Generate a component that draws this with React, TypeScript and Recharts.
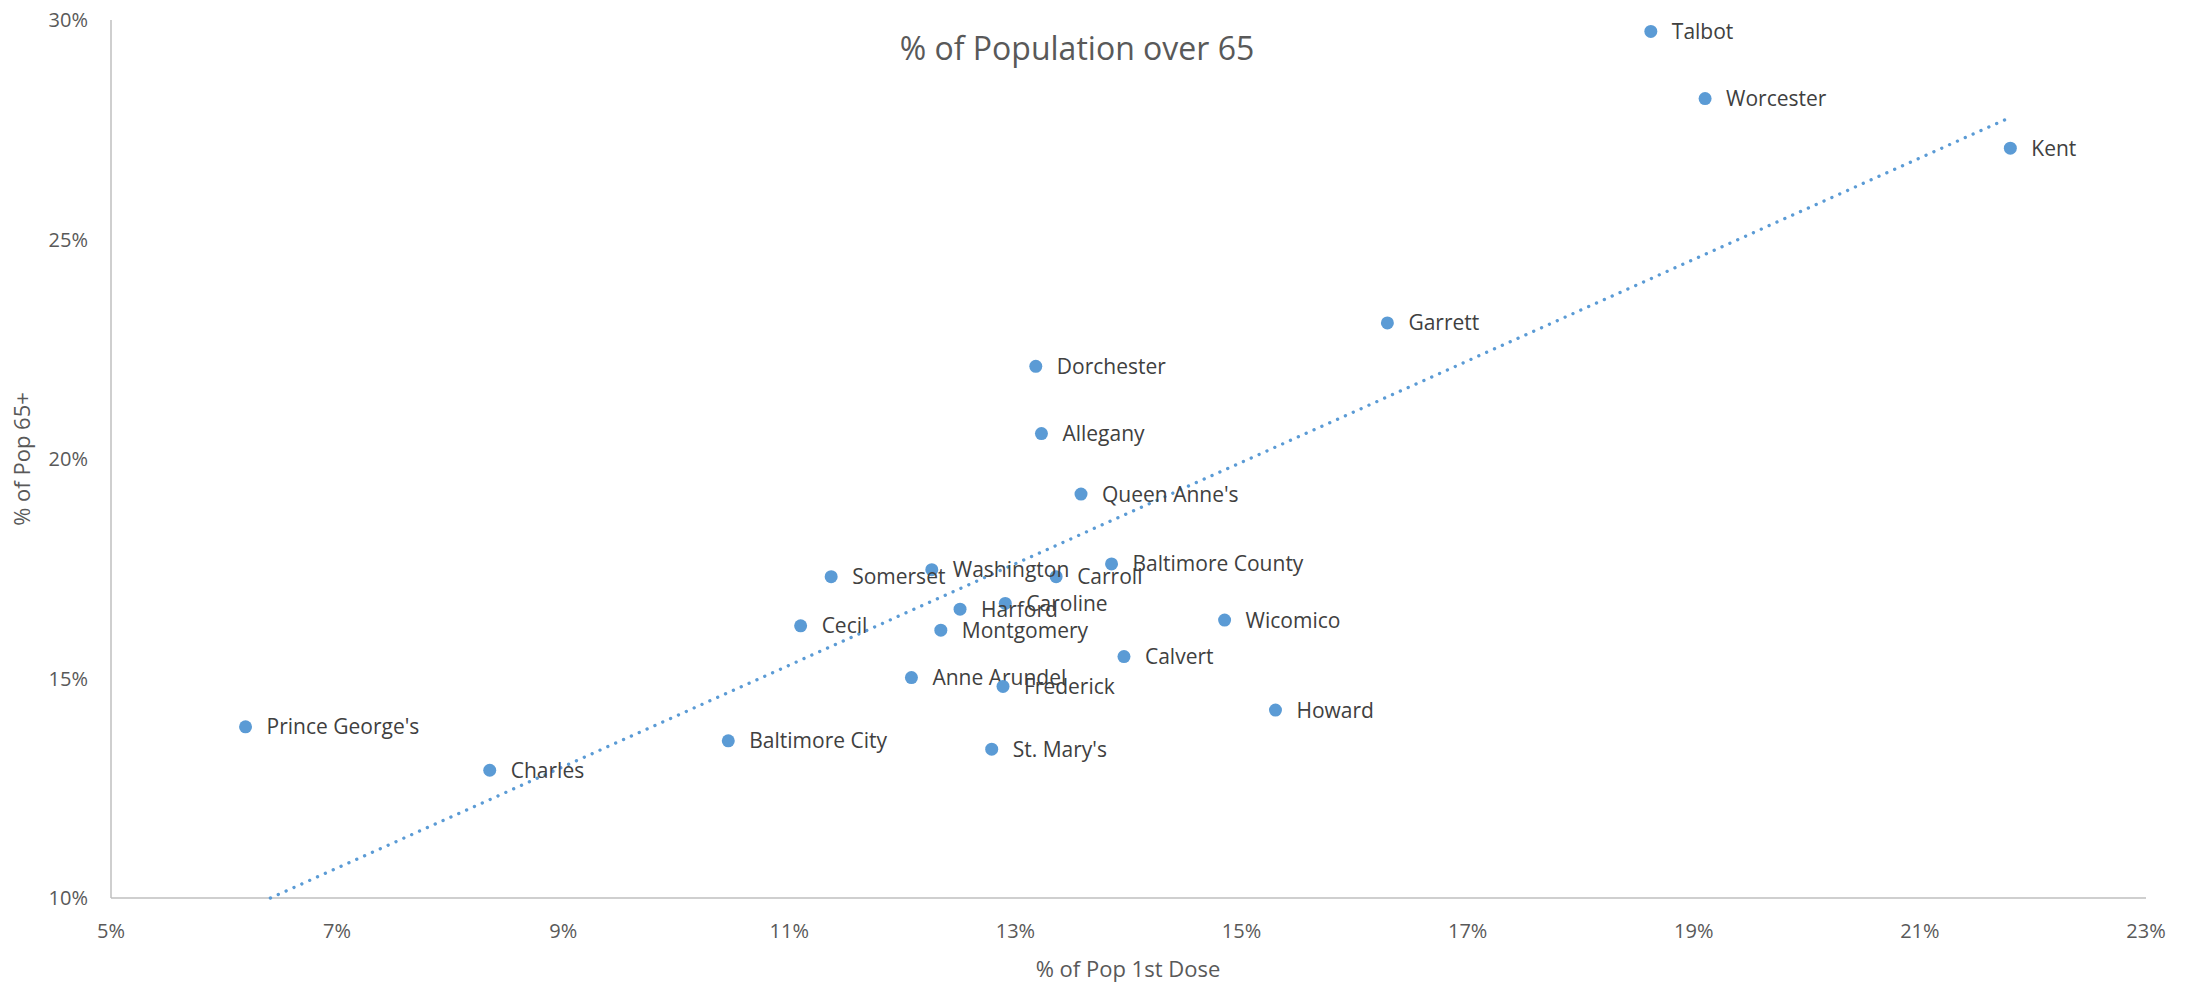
import React from "react";
import { Scatter, ScatterChart, XAxis, YAxis } from "recharts";

// counties, % of pop with 1st dose, % of pop 65+
const COUNTIES = [
  "Talbot", "Worcester", "Kent", "Garrett", "Dorchester", "Allegany",
  "Queen Anne's", "Baltimore County", "Carroll", "Washington", "Somerset",
  "Caroline", "Harford", "Cecil", "Montgomery", "Wicomico", "Calvert",
  "Anne Arundel", "Frederick", "Howard", "Prince George's", "Baltimore City",
  "St. Mary's", "Charles",
];
const FIRST_DOSE = [
  18.62, 19.1, 21.8, 16.29, 13.18, 13.23, 13.58, 13.85, 13.36, 12.26, 11.37,
  12.91, 12.51, 11.1, 12.34, 14.85, 13.96, 12.08, 12.89, 15.3, 6.19, 10.46,
  12.79, 8.35,
];
const OVER_65 = [
  29.74, 28.21, 27.08, 23.1, 22.11, 20.58, 19.2, 17.61, 17.32, 17.48, 17.32,
  16.71, 16.58, 16.2, 16.1, 16.33, 15.5, 15.02, 14.82, 14.28, 13.9, 13.58,
  13.39, 12.91,
];
// linear trendline end points (clipped at the axis)
const TREND_X = [6.41, 21.79];
const TREND_Y = [10, 27.77];

const X_TICKS = [5, 7, 9, 11, 13, 15, 17, 19, 21, 23];
const Y_TICKS = [10, 15, 20, 25, 30];

const points = COUNTIES.map((name, i) => ({ name, x: FIRST_DOSE[i], y: OVER_65[i] }));
const trend = TREND_X.map((x, i) => ({ x, y: TREND_Y[i] }));

const BLUE = "#5B9BD5";
const FONT = "'Open Sans', sans-serif";

function Dot(props: any) {
  const { cx, cy, payload } = props;
  return (
    <g>
      <circle cx={cx} cy={cy} r={6.5} fill={BLUE} />
      <text x={cx + 21} y={cy + 7.5} fontSize={21} fill="#404040" fontFamily={FONT}>
        {payload.name}
      </text>
    </g>
  );
}

function XTick({ x, payload }: any) {
  return (
    <text x={x} y={938} textAnchor="middle" fontSize={20} fill="#595959" fontFamily={FONT}>
      {payload.value}%
    </text>
  );
}

function YTick({ y, payload }: any) {
  return (
    <text x={88} y={y + 7} textAnchor="end" fontSize={20} fill="#595959" fontFamily={FONT}>
      {payload.value}%
    </text>
  );
}

export default function App() {
  return (
    <div style={{ width: 2195, height: 983, background: "#fff" }}>
      <style>{"body{margin:0}"}</style>
      <ScatterChart
        width={2195}
        height={983}
        margin={{ top: 20, right: 49, bottom: 45, left: 51 }}
      >
        <XAxis
          type="number"
          dataKey="x"
          domain={[5, 23]}
          ticks={X_TICKS}
          height={40}
          tickLine={false}
          axisLine={{ stroke: "#bfbfbf", strokeWidth: 1.5 }}
          tick={<XTick />}
        />
        <YAxis
          type="number"
          dataKey="y"
          domain={[10, 30]}
          ticks={Y_TICKS}
          width={60}
          tickLine={false}
          axisLine={{ stroke: "#bfbfbf", strokeWidth: 1.5 }}
          tick={<YTick />}
        />
        <Scatter
          data={trend}
          isAnimationActive={false}
          line={{ stroke: BLUE, strokeWidth: 3.3, strokeDasharray: "0.1 8.5", strokeLinecap: "round" }}
          shape={() => <g />}
        />
        <Scatter data={points} isAnimationActive={false} shape={<Dot />} />
        <text x={1077} y={60} textAnchor="middle" fontSize={32} fill="#595959" fontFamily={FONT}>
          % of Population over 65
        </text>
        <text x={1128} y={977} textAnchor="middle" fontSize={22} fill="#595959" fontFamily={FONT}>
          % of Pop 1st Dose
        </text>
        <text
          x={30}
          y={459}
          transform="rotate(-90 30 459)"
          textAnchor="middle"
          fontSize={22}
          fill="#595959"
          fontFamily={FONT}
        >
          % of Pop 65+
        </text>
      </ScatterChart>
    </div>
  );
}
